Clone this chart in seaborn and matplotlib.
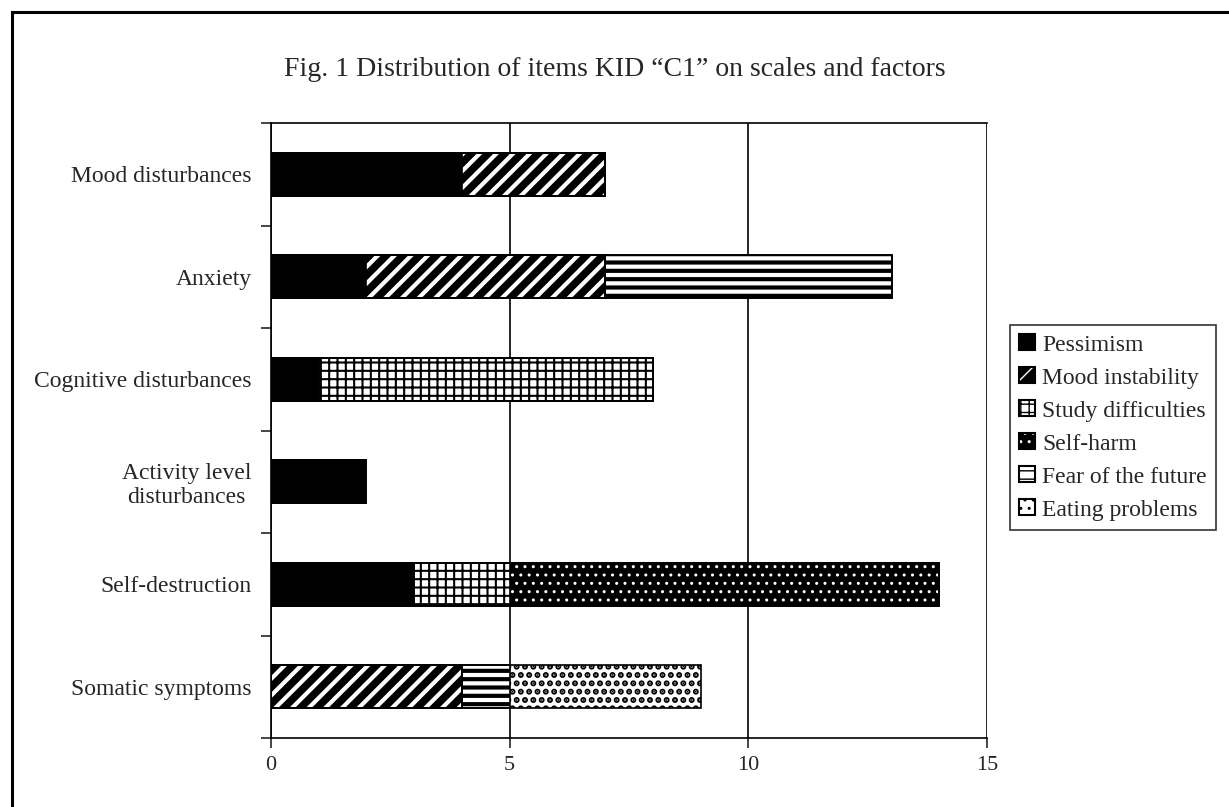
import numpy as np
import pandas as pd
import matplotlib.pyplot as plt
from matplotlib.patches import Patch, Rectangle
from matplotlib.legend_handler import HandlerTuple
import seaborn as sns

# data
categories = ['Mood disturbances', 'Anxiety', 'Cognitive disturbances',
              'Activity level\ndisturbances', 'Self-destruction', 'Somatic symptoms']
series = ['Pessimism', 'Mood instability', 'Study difficulties',
          'Self-harm', 'Fear of the future', 'Eating problems']
pessimism = [4, 2, 1, 2, 3, 0]
mood_instability = [3, 5, 0, 0, 0, 4]
study_difficulties = [0, 0, 7, 0, 2, 0]
self_harm = [0, 0, 0, 0, 9, 0]
fear_of_future = [0, 6, 0, 0, 0, 1]
eating_problems = [0, 0, 0, 0, 0, 4]
x_ticks = [0, 5, 10, 15]

df = pd.DataFrame({'category': categories,
                   'Pessimism': pessimism,
                   'Mood instability': mood_instability,
                   'Study difficulties': study_difficulties,
                   'Self-harm': self_harm,
                   'Fear of the future': fear_of_future,
                   'Eating problems': eating_problems})
cum = df[series].cumsum(axis=1)

# face colour, hatch colour, hatch, hatch linewidth
styles = {
    'Pessimism': ('black', 'black', None, 1.0),
    'Mood instability': ('black', 'white', '//', 3.0),
    'Study difficulties': ('white', 'black', '++', 1.5),
    'Self-harm': ('black', 'white', '..', 1.0),
    'Fear of the future': ('white', 'black', '--', 3.0),
    'Eating problems': ('white', 'black', '..', 3.0),
}

sns.set_style('white')
plt.rcParams['font.family'] = ['Liberation Serif', 'DejaVu Serif']

W, H = 1229, 807
fig = plt.figure(figsize=(W / 100, H / 100), dpi=100)
ax = fig.add_axes([271 / W, 1 - 738 / H, (987 - 271) / W, (738 - 123) / H])

bw = 0.42
# stacked bars: draw cumulative totals, longest first
for s in reversed(series):
    fc, hc, hatch, hlw = styles[s]
    n0 = len(ax.patches)
    sns.barplot(x=cum[s].values, y=df['category'], orient='h', color=fc,
                saturation=1, width=bw, errorbar=None, ax=ax,
                edgecolor=hc, linewidth=0, hatch=hatch)
    for p in ax.patches[n0:]:
        if hasattr(p, 'set_hatch_linewidth'):
            p.set_hatch_linewidth(hlw)
# outlines of each segment
for s in series:
    sns.barplot(x=cum[s].values, y=df['category'], orient='h', color='black',
                fill=False, width=bw, errorbar=None, ax=ax, linewidth=1.2)

ax.set_xlim(0, 15)
ax.set_ylim(5.5, -0.5)
ax.set_xticks(x_ticks)
ax.set_xticklabels([str(t) for t in x_ticks], fontsize=16)
ax.set_yticks(range(len(categories)))
ax.set_yticklabels(categories, fontsize=17, multialignment='center')
ax.set_yticks(np.arange(-0.5, 6, 1), minor=True)
ax.tick_params(axis='y', which='major', length=0, pad=14)
ax.tick_params(axis='y', which='minor', length=7, width=1.2, direction='out', left=True)
ax.tick_params(axis='x', which='major', length=7, width=1.2, direction='out', bottom=True, pad=6)
ax.set_xlabel('')
ax.set_ylabel('')
ax.set_axisbelow(True)
ax.xaxis.grid(True, color='black', linewidth=1.2)
ax.yaxis.grid(False)
ax.spines['right'].set_visible(False)
for side in ['left', 'bottom', 'top']:
    ax.spines[side].set_color('black')
    ax.spines[side].set_linewidth(1.2)

handles = []
for s in series:
    fc, hc, hatch, hlw = styles[s]
    h1 = Patch(facecolor=fc, edgecolor=hc, hatch=hatch, linewidth=0)
    h2 = Patch(fill=False, edgecolor='black', linewidth=1.5)
    handles.append((h1, h2))
leg = fig.legend(handles, series, loc='upper left', bbox_to_anchor=(1010 / W, 1 - 325 / H),
                 handler_map={tuple: HandlerTuple(ndivide=1, pad=0)},
                 frameon=True, fancybox=False, edgecolor='black', fontsize=17,
                 handlelength=0.65, handleheight=0.65, handletextpad=0.3,
                 labelspacing=0.5, borderpad=0.4, borderaxespad=0)
leg.get_frame().set_linewidth(1.2)

fig.text(0.5, 1 - 70 / H, 'Fig. 1 Distribution of items KID \u201cC1\u201d on scales and factors',
         ha='center', va='center', fontsize=20)

fig.add_artist(Rectangle((12 / W, -0.1), 1.2, 1.1 - 12 / H, transform=fig.transFigure,
                         fill=False, edgecolor='black', linewidth=2.2))

fig.savefig('out.png', dpi=100)
